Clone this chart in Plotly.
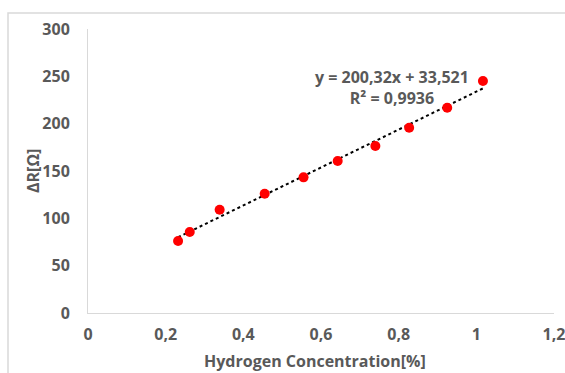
import plotly.graph_objects as go

# Data
conc = [0.232, 0.262, 0.339, 0.455, 0.555, 0.643, 0.740, 0.827, 0.925, 1.017]
delta_r = [76.1, 85.6, 109.1, 126.0, 143.3, 160.6, 176.4, 195.7, 216.9, 245.0]
slope = 200.32
intercept = 33.521
r2 = 0.9936
x_ticks = [0, 0.2, 0.4, 0.6, 0.8, 1, 1.2]
y_ticks = [0, 50, 100, 150, 200, 250, 300]
x_title = "Hydrogen Concentration[%]"
y_title = "ΔR[Ω]"

gray = "#595959"
font_family = "Open Sans"

x_fit = [min(conc), max(conc)]
y_fit = [slope * v + intercept for v in x_fit]

fig = go.Figure()
fig.add_trace(go.Scatter(
    x=x_fit, y=y_fit, mode="lines",
    line=dict(color="black", width=2, dash="dot"),
    showlegend=False, hoverinfo="skip"))
fig.add_trace(go.Scatter(
    x=conc, y=delta_r, mode="markers",
    marker=dict(color="#ff0000", size=10),
    showlegend=False))

eq = f"y = {slope:.2f}x + {intercept:.3f}".replace(".", ",")
rr = f"R² = {r2:.4f}".replace(".", ",")
fig.add_annotation(
    x=0.782, y=238.7, xref="x", yref="y",
    text=f"<b>{eq}</b><br><b>{rr}</b>", showarrow=False,
    align="center",
    font=dict(family=font_family, size=16, color=gray))

# y-axis title placed as rotated annotation
fig.add_annotation(
    x=(33 - 88) / 466, y=0.5, xref="paper", yref="paper",
    text=f"<b>{y_title}</b>", showarrow=False, textangle=-90,
    xanchor="center", yanchor="middle",
    font=dict(family=font_family, size=16, color=gray))

# x-axis title placed as annotation
fig.add_annotation(
    x=(315 - 88) / 466, y=(313 - 361) / 284, xref="paper", yref="paper",
    text=f"<b>{x_title}</b>", showarrow=False,
    xanchor="center", yanchor="middle",
    font=dict(family=font_family, size=16, color=gray))

# outer chart border (cropped at right/bottom)
fig.add_shape(type="rect", xref="paper", yref="paper",
              x0=(8 - 88) / 466, x1=1.2, y0=-0.5, y1=(313 - 13) / 284,
              line=dict(color="#d9d9d9", width=1.5), layer="below")

fig.update_layout(
    width=565, height=373,
    margin=dict(l=88, r=11, t=29, b=60, autoexpand=False),
    paper_bgcolor="white", plot_bgcolor="white",
    separators=", ",
    font=dict(family=font_family, color=gray),
    xaxis=dict(
        range=[0, 1.2], tickvals=x_ticks, showgrid=False, zeroline=False,
        showline=True, linecolor="#d9d9d9", linewidth=1,
        ticks="outside", ticklen=7, tickcolor="rgba(0,0,0,0)",
        ticklabeloverflow="allow", automargin=False,
        tickfont=dict(family=font_family, size=16, color=gray, weight="bold"),
    ),
    yaxis=dict(
        range=[0, 300], tickvals=y_ticks, showgrid=False, zeroline=False,
        showline=True, linecolor="#d9d9d9", linewidth=1,
        ticks="outside", ticklen=14, tickcolor="rgba(0,0,0,0)",
        automargin=False,
        tickfont=dict(family=font_family, size=16, color=gray, weight="bold"),
    ),
)

fig.write_html(
    "out.html",
    config={"displayModeBar": False},
    post_script="document.body.style.margin='0';document.body.style.overflow='hidden';",
)
